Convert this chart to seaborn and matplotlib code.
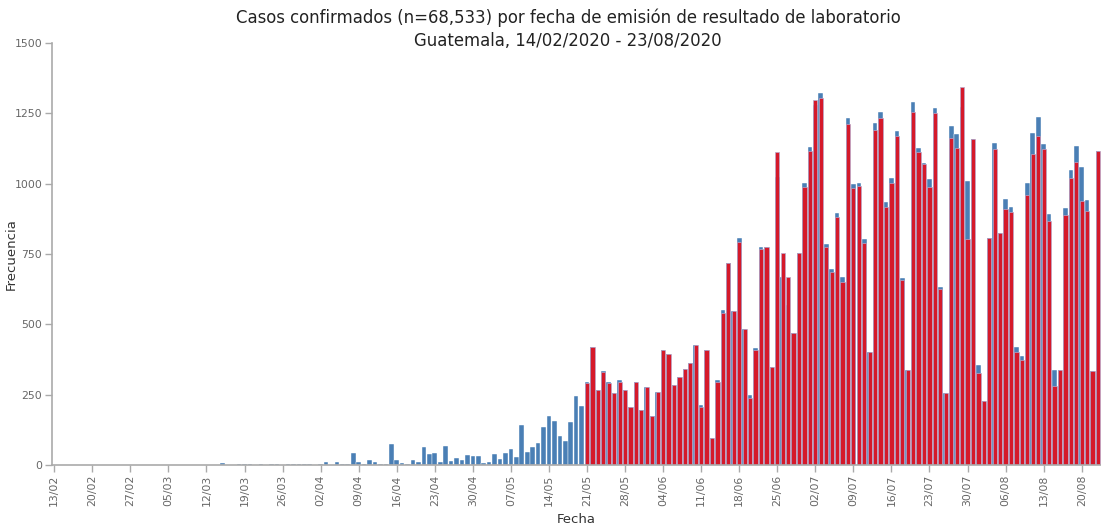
import pandas as pd
import matplotlib
matplotlib.use("Agg")
import matplotlib.pyplot as plt
import seaborn as sns

# Fechas de referencia
eje_inicio = pd.Timestamp("2020-02-13")
inicio_total = "2020-03-15"
inicio_lab = "2020-05-21"
fin_eje = "2020-08-23"

# Casos por día (serie azul, desde 15/03)
casos_total = [
    7, 0, 0, 2, 3, 4, 0, 2, 0, 2, 3, 1, 5, 3, 3, 3, 5, 1, 4, 9,
    1, 9, 5, 5, 41, 9, 5, 18, 9, 4, 5, 74, 18, 6, 2, 17, 12, 65, 40, 41,
    12, 67, 15, 25, 19, 34, 32, 33, 6, 9, 38, 20, 41, 57, 28, 142, 47, 63, 78, 136,
    175, 156, 104, 85, 154, 245, 210,
    296, 420, 267, 335, 296, 255, 302, 267, 207, 296, 195, 276, 175, 260, 409, 393, 284, 314,
    340, 361, 427, 213, 409, 95, 302, 551, 717, 549, 806, 482, 249, 415, 776, 774,
    347, 1025, 669, 569, 468, 755, 1004, 1129, 1280, 1321, 786, 697, 897, 669, 1235, 999,
    1004, 802, 403, 1217, 1256, 936, 1019, 1188, 664, 338, 1291, 1126, 1075, 1015, 1270, 634,
    257, 1205, 1177, 1274, 1011, 1158, 355, 227, 806, 1143, 823, 945, 918, 421, 387, 1001,
    1179, 1236, 1140, 892, 338, 338, 915, 1049, 1134, 1060, 942, 335, 1117,
]

# Casos por fecha de emisión de laboratorio (serie roja, desde 21/05)
casos_lab = [
    290, 420, 265, 332, 290, 255, 296, 267, 207, 296, 195, 276, 175, 260, 409, 393, 284, 314,
    340, 361, 427, 207, 409, 95, 296, 540, 717, 549, 794, 482, 237, 409, 767, 774,
    347, 1114, 752, 669, 468, 755, 987, 1117, 1297, 1303, 776, 687, 883, 652, 1211, 983,
    992, 788, 403, 1191, 1232, 918, 1001, 1169, 658, 338, 1256, 1114, 1069, 989, 1252, 624,
    257, 1161, 1126, 1345, 804, 1158, 326, 227, 806, 1122, 823, 909, 900, 403, 373, 960,
    1105, 1169, 1122, 867, 281, 338, 889, 1019, 1078, 940, 903, 335, 1117,
]

fechas_total = pd.date_range(inicio_total, periods=len(casos_total))
fechas_lab = pd.date_range(inicio_lab, periods=len(casos_lab))

df_total = pd.DataFrame({"dia": (fechas_total - eje_inicio).days, "casos": casos_total})
df_lab = pd.DataFrame({"dia": (fechas_lab - eje_inicio).days, "casos": casos_lab})

sns.set_style("white")
plt.rcParams["font.family"] = ["DejaVu Sans"]

fig = plt.figure(figsize=(11.01, 5.27), dpi=100)
ax = fig.add_axes([0.0472, 0.1176, 0.9528, 0.8008])

sns.barplot(data=df_total, x="dia", y="casos", native_scale=True, errorbar=None,
            color="#4a7fb5", saturation=1, width=0.85, edgecolor="white",
            linewidth=0.3, ax=ax)
sns.barplot(data=df_lab, x="dia", y="casos", native_scale=True, errorbar=None,
            color="#d5192a", saturation=1, width=0.78, edgecolor="#b8a8cc",
            linewidth=0.5, ax=ax)

# Eje x: ticks semanales y diarios desde 21/05
semanas = pd.date_range(eje_inicio, fin_eje, freq="7D")
ax.set_xticks((semanas - eje_inicio).days)
ax.set_xticklabels(semanas.strftime("%d/%m"), rotation=90)
dias_lab = pd.date_range(inicio_lab, fin_eje)
ax.set_xticks((dias_lab - eje_inicio).days, minor=True)

ax.set_xlim(-0.42, 192.55)
ax.set_ylim(0, 1500)
ax.set_yticks(range(0, 1501, 250))

for lado in ["top", "right"]:
    ax.spines[lado].set_visible(False)
for lado in ["left", "bottom"]:
    ax.spines[lado].set_color("#aaaaaa")
    ax.spines[lado].set_linewidth(1.2)

ax.tick_params(axis="both", which="major", length=5, width=1, color="#aaaaaa",
               labelcolor="#666666", labelsize=7.8, pad=2)
ax.tick_params(axis="x", which="minor", length=3, width=0.8, color="#aaaaaa")
ax.tick_params(left=True, bottom=True)

ax.set_xlabel("Fecha", fontsize=9.5, color="#333333", labelpad=5)
ax.set_ylabel("Frecuencia", fontsize=9.5, color="#333333")
ax.yaxis.set_label_coords(-0.033, 0.5)

fig.text(568 / 1101, 1 - 29 / 527,
         "Casos confirmados (n=68,533) por fecha de emisión de resultado de laboratorio\n"
         "Guatemala, 14/02/2020 - 23/08/2020",
         ha="center", va="center", fontsize=11.9, color="#222222", linespacing=1.35)

fig.savefig("out.png", dpi=100)
